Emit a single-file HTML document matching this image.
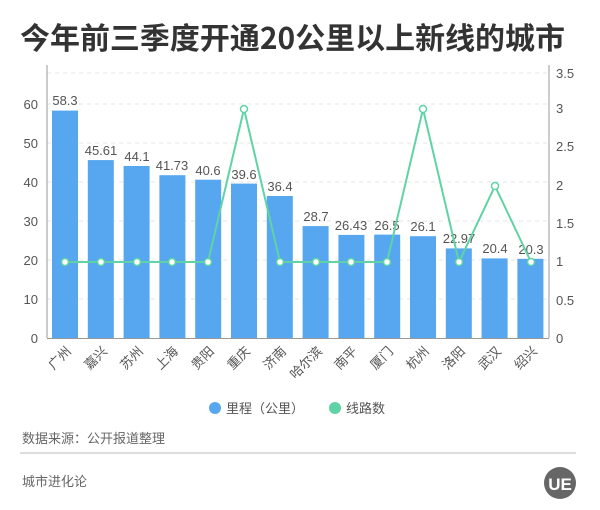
<!DOCTYPE html>
<html><head><meta charset="utf-8"><style>
body{margin:0;background:#fff;}
svg{display:block;font-family:"Liberation Sans","Noto Sans CJK SC",sans-serif;}
</style></head><body>
<svg width="600" height="510" xmlns="http://www.w3.org/2000/svg">
<rect width="600" height="510" fill="#fff"/>
<text x="20" y="49" font-size="30" font-weight="bold" fill="#333" textLength="545" lengthAdjust="spacingAndGlyphs" font-family="'Noto Sans CJK SC',sans-serif">今年前三季度开通20公里以上新线的城市</text>
<g stroke="#e6e6e6" stroke-dasharray="4,4">
<line x1="47" y1="104" x2="549" y2="104"/><line x1="47" y1="143" x2="549" y2="143"/>
<line x1="47" y1="182" x2="549" y2="182"/><line x1="47" y1="221" x2="549" y2="221"/>
<line x1="47" y1="260" x2="549" y2="260"/><line x1="47" y1="299" x2="549" y2="299"/>
<line x1="47" y1="73" x2="549" y2="73"/>
</g>
<g stroke="#999"><line x1="47" y1="65" x2="47" y2="338"/><line x1="549" y1="65" x2="549" y2="338"/><line x1="47" y1="338.5" x2="549" y2="338.5"/></g>
<g font-size="13" fill="#555" text-anchor="end">
<text x="38" y="109">60</text><text x="38" y="148">50</text><text x="38" y="187">40</text><text x="38" y="226">30</text><text x="38" y="265">20</text><text x="38" y="304">10</text><text x="38" y="343">0</text>
</g>
<g font-size="13" fill="#555">
<text x="556" y="78">3.5</text><text x="556" y="113">3</text><text x="556" y="151">2.5</text><text x="556" y="190">2</text><text x="556" y="228">1.5</text><text x="556" y="266">1</text><text x="556" y="305">0.5</text><text x="556" y="343">0</text>
</g>
<g fill="#56a7ef">
<rect x="52" y="110.6" width="26" height="227.4"/>
<rect x="87.8" y="160.1" width="26" height="177.9"/>
<rect x="123.6" y="166" width="26" height="172"/>
<rect x="159.4" y="175.2" width="26" height="162.8"/>
<rect x="195.2" y="179.7" width="26" height="158.3"/>
<rect x="231" y="183.6" width="26" height="154.4"/>
<rect x="266.8" y="196" width="26" height="142"/>
<rect x="302.6" y="226.1" width="26" height="111.9"/>
<rect x="338.4" y="234.9" width="26" height="103.1"/>
<rect x="374.2" y="234.6" width="26" height="103.4"/>
<rect x="410" y="236.2" width="26" height="101.8"/>
<rect x="445.8" y="248.4" width="26" height="89.6"/>
<rect x="481.6" y="258.4" width="26" height="79.6"/>
<rect x="517.4" y="258.8" width="26" height="79.2"/>
</g>
<g font-size="13" fill="#555" text-anchor="middle">
<text x="65" y="105">58.3</text><text x="101" y="155">45.61</text><text x="137" y="161">44.1</text><text x="172" y="170">41.73</text><text x="208" y="175">40.6</text><text x="244" y="179">39.6</text><text x="280" y="191">36.4</text><text x="316" y="221">28.7</text><text x="351" y="230">26.43</text><text x="387" y="230">26.5</text><text x="423" y="231">26.1</text><text x="459" y="243">22.97</text><text x="495" y="253">20.4</text><text x="531" y="254">20.3</text>
</g>
<polyline fill="none" stroke="#5fd3a5" stroke-width="2" points="65,262 101,262 137,262 172,262 208,262 244,109 280,262 316,262 351,262 387,262 423,109 459,262 495,186 531,262"/>
<g fill="#fff" stroke="#5fd3a5" stroke-width="1.5">
<circle cx="65" cy="262" r="3.5"/><circle cx="101" cy="262" r="3.5"/><circle cx="137" cy="262" r="3.5"/><circle cx="172" cy="262" r="3.5"/><circle cx="208" cy="262" r="3.5"/><circle cx="244" cy="109" r="3.5"/><circle cx="280" cy="262" r="3.5"/><circle cx="316" cy="262" r="3.5"/><circle cx="351" cy="262" r="3.5"/><circle cx="387" cy="262" r="3.5"/><circle cx="423" cy="109" r="3.5"/><circle cx="459" cy="262" r="3.5"/><circle cx="495" cy="186" r="3.5"/><circle cx="531" cy="262" r="3.5"/>
</g>
<g font-size="13" fill="#555" text-anchor="end">
<text transform="translate(72,352) rotate(-45)">广州</text>
<text transform="translate(108,352) rotate(-45)">嘉兴</text>
<text transform="translate(144,352) rotate(-45)">苏州</text>
<text transform="translate(179,352) rotate(-45)">上海</text>
<text transform="translate(215,352) rotate(-45)">贵阳</text>
<text transform="translate(251,352) rotate(-45)">重庆</text>
<text transform="translate(287,352) rotate(-45)">济南</text>
<text transform="translate(323,352) rotate(-45)">哈尔滨</text>
<text transform="translate(358,352) rotate(-45)">南平</text>
<text transform="translate(394,352) rotate(-45)">厦门</text>
<text transform="translate(430,352) rotate(-45)">杭州</text>
<text transform="translate(466,352) rotate(-45)">洛阳</text>
<text transform="translate(502,352) rotate(-45)">武汉</text>
<text transform="translate(538,352) rotate(-45)">绍兴</text>
</g>
<circle cx="215" cy="408" r="6" fill="#56a7ef"/>
<text x="226" y="413" font-size="13" fill="#555">里程（公里）</text>
<circle cx="335" cy="408" r="6" fill="#5fd3a5"/>
<text x="346" y="413" font-size="13" fill="#555">线路数</text>
<text x="22" y="443" font-size="13" fill="#666">数据来源：公开报道整理</text>
<line x1="20" y1="453" x2="576" y2="453" stroke="#bbb"/>
<text x="22" y="486" font-size="13" fill="#666">城市进化论</text>
<circle cx="560" cy="483" r="16" fill="#666"/>
<text x="560" y="490" font-size="17" font-weight="bold" fill="#fff" text-anchor="middle">UE</text>
</svg>
</body></html>
